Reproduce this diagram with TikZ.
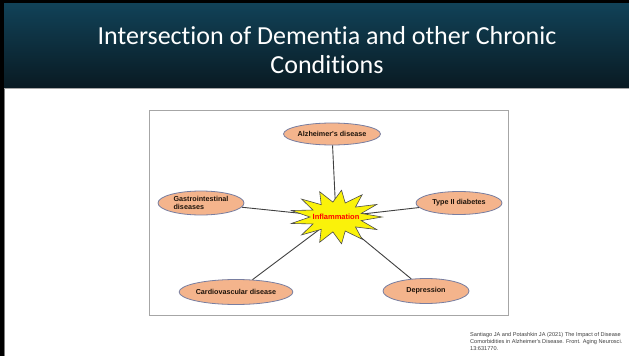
\documentclass[tikz,border=0pt]{standalone}
\usepackage{fontspec}
\usepackage{xcolor}
\usepackage{tikz}
\usetikzlibrary{shapes,arrows,positioning,calc}
\newfontfamily\titlefont[Ligatures=NoCommon]{Carlito}
\newfontfamily\arialfont{Liberation Sans}
\definecolor{banntop}{RGB}{17,66,88}
\definecolor{bannbot}{RGB}{9,26,34}
\definecolor{peach}{RGB}{244,180,140}
\definecolor{rimblue}{RGB}{120,126,160}
\definecolor{burst}{RGB}{250,242,10}

\begin{document}
\begin{tikzpicture}[auto, x=1pt, y=-1pt]
      \tikzset{vertex/.style = {shape=ellipse,draw=rimblue,line width=0.8pt,fill=peach,
                                minimum width=86pt,minimum height=22pt,inner sep=0pt,
                                font=\arialfont\fontsize{7.2}{8.2}\selectfont\bfseries,
                                text=black!85!brown,align=center}}
      \tikzset{edge/.style = {-,draw=black!75,line width=0.9pt}}

      \useasboundingbox (0,0) rectangle (629,356);
      \clip (0,0) rectangle (629,356);

      % slide frame and banner
      \fill[white] (0,0) rectangle (629,356);
      \fill[black] (0,0) rectangle (629,3);
      \fill[black] (0,0) rectangle (4,356);
      \draw[gray,line width=0.8pt] (4.6,88) -- (4.6,356);
      \shade[top color=banntop,bottom color=bannbot] (4,3) rectangle (629,88);
      \draw[gray!70,line width=0.6pt] (4,88) -- (629,88);
      \node[text=white,font=\titlefont\fontsize{26}{29.5}\selectfont,align=center] (title)
            at (327,50) {Intersection of Dementia and other Chronic\\Conditions};

      % diagram
      \draw[black!35,line width=0.7pt] (149,110) rectangle (508,315);

      \node[vertex] (2) at (332,134) {Alzheimer's disease};
      \node[vertex,minimum height=24pt,align=left] (3) at (201,203) {Gastrointestinal\\diseases};
      \node[vertex,minimum height=23pt] (4) at (459,203) {Type II diabetes};
      \node[vertex,minimum height=25pt] (5) at (236,292) {Cardiovascular disease};
      \node[vertex,minimum height=25pt] (6) at (426,291) {Depression};
      \coordinate (c) at (336,217);

      \path[every edge/.style={edge}]
      (2) edge (c)
      (3) edge (c)
      (4) edge (c)
      (5) edge (c)
      (6) edge (c)
      ;

      \filldraw[fill=burst,draw=black!70,line width=0.6pt,line join=miter]
            ($(c)+(46,0)$) \foreach \i in {0,...,12} {
               -- ($(c)+({26*cos(\i*360/13+360/26)},{15*sin(\i*360/13+360/26)})$)
               -- ($(c)+({46*cos((\i+1)*360/13)},{27*sin((\i+1)*360/13)})$)
            } -- cycle;
      \node[text=red,font=\arialfont\fontsize{7.5}{8}\selectfont\bfseries] (1) at (c) {Inflammation};

      % reference
      \node[anchor=north west,inner sep=0pt,align=left,text=black!75,
            font=\arialfont\fontsize{5.6}{7}\selectfont] (ref) at (470,332)
            {Santiago JA and Potashkin JA (2021) The Impact of Disease\\
             Comorbidities in Alzheimer's Disease. Front. Aging Neurosci.\\
             13:631770.};
\end{tikzpicture}
\end{document}
